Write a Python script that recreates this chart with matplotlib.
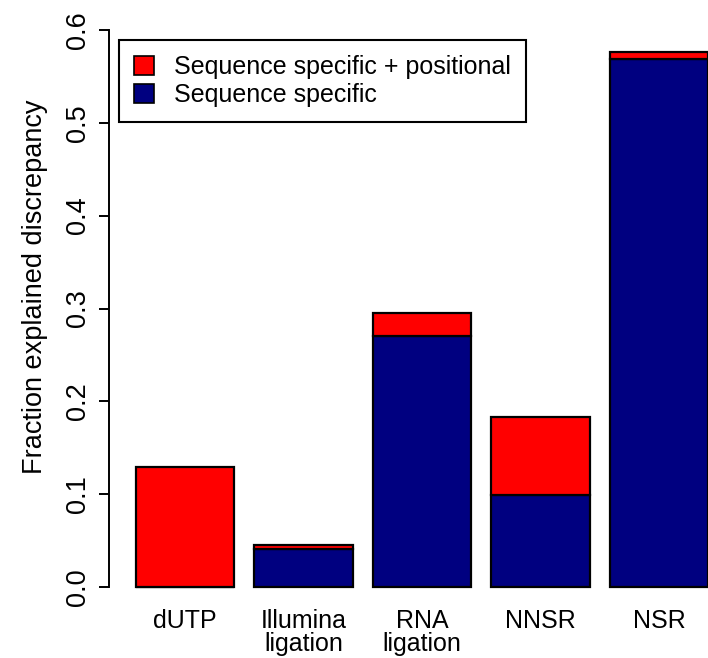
import numpy as np
import matplotlib.pyplot as plt
from matplotlib.patches import Patch

plt.rcParams['font.family'] = ['Liberation Sans', 'DejaVu Sans']

# data
methods = ['dUTP', 'Illumina\nligation', 'RNA\nligation', 'NNSR', 'NSR']
seq_specific = [0.0, 0.041, 0.270, 0.099, 0.569]
seq_plus_pos = [0.129, 0.045, 0.295, 0.183, 0.576]
yticks = [0.0, 0.1, 0.2, 0.3, 0.4, 0.5, 0.6]

red = '#ff0000'
navy = '#000080'

W, H = 708, 658
fig = plt.figure(figsize=(W / 100, H / 100), dpi=100)
# axes spans a bit past the right edge (NSR bar is cut off in the original)
ax = fig.add_axes([116 / W, 71 / H, 612 / W, 557 / H])

x = 0.7 + 1.2 * np.arange(len(methods))
extra = np.array(seq_plus_pos) - np.array(seq_specific)
ax.bar(x, seq_specific, width=1.0, color=navy, edgecolor='black', linewidth=1.6, clip_on=False)
ax.bar(x, extra, bottom=seq_specific, width=1.0, color=red, edgecolor='black', linewidth=1.6, clip_on=False)

ax.set_xlim(0, 6.2)
ax.set_ylim(0, 0.6)
for s in ['top', 'right', 'bottom']:
    ax.spines[s].set_visible(False)
ax.spines['left'].set_position(('outward', 5))
ax.spines['left'].set_bounds(0, 0.6)
ax.spines['left'].set_linewidth(1.4)
ax.set_yticks(yticks)
ax.set_yticklabels(['%.1f' % v for v in yticks], rotation=90, va='center', fontsize=19.5)
ax.tick_params(axis='y', length=7, width=1.4, pad=6)
ax.set_xticks(x)
ax.set_xticklabels(methods, fontsize=18, linespacing=0.95)
ax.tick_params(axis='x', length=0, pad=16)
ax.set_ylabel('Fraction explained discrepancy', fontsize=19.5)
ax.yaxis.set_label_coords(-0.111, 0.539)

handles = [Patch(facecolor=red, edgecolor='black', linewidth=1.2),
           Patch(facecolor=navy, edgecolor='black', linewidth=1.2)]
leg = fig.legend(handles, ['Sequence specific + positional', 'Sequence specific'],
                 loc='upper left', bbox_to_anchor=(119 / W, 1 - 40 / H),
                 fontsize=18, fancybox=False, framealpha=1, edgecolor='black',
                 handlelength=0.8, handleheight=0.8, handletextpad=0.8,
                 labelspacing=0.15, borderpad=0.6, borderaxespad=0)
leg.get_frame().set_linewidth(1.5)

fig.savefig('out.png', dpi=100)
